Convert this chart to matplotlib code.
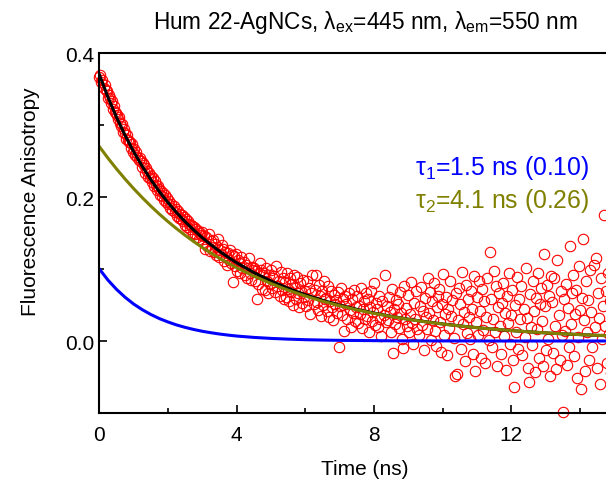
import numpy as np
import matplotlib.pyplot as plt
from matplotlib.ticker import MultipleLocator

plt.rcParams['font.family'] = ['Liberation Sans', 'DejaVu Sans']
plt.rcParams['mathtext.fontset'] = 'custom'
plt.rcParams['mathtext.rm'] = 'Liberation Sans'
plt.rcParams['mathtext.it'] = 'Liberation Sans:italic'

# measured anisotropy, one value per 0.03 ns channel (10 channels per row)
t_step = 0.03
anisotropy = [
    .366, .369, .360, .362, .351, .356, .349, .347, .338, .342,
    .337, .331, .333, .322, .327, .318, .316, .314, .309, .311,
    .303, .298, .301, .290, .294, .289, .280, .286, .279, .276,
    .276, .268, .274, .263, .267, .259, .262, .255, .251, .254,
    .250, .241, .247, .244, .233, .240, .236, .228, .233, .226,
    .229, .221, .226, .215, .222, .217, .210, .215, .211, .203,
    .208, .201, .205, .196, .203, .193, .198, .190, .194, .185,
    .190, .182, .187, .179, .184, .174, .181, .171, .177, .169,
    .175, .166, .172, .161, .170, .158, .166, .163, .155, .161,
    .160, .150, .158, .149, .155, .145, .153, .142, .150, .147,
    .151, .137, .146, .128, .144, .132, .149, .125, .139, .130,
    .140, .124, .135, .119, .131, .142, .116, .127, .121, .133,
    .128, .111, .124, .117, .105, .122, .113, .127, .108, .119,
    .082, .118, .104, .121, .097, .112, .109, .094, .116, .101,
    .110, .092, .106, .088, .101, .115, .094, .085, .103, .098,
    .102, .083, .097, .058, .079, .094, .108, .099, .072, .091,
    .095, .071, .102, .084, .066, .091, .079, .098, .074, .087,
    .090, .068, .104, .077, .083, .062, .096, .071, .088, .059,
    .082, .061, .094, .072, .055, .087, .068, .079, .050, .091,
    .074, .058, .089, .066, .047, .081, .070, .053, .085, .061,
    .069, .048, .083, .057, .074, .038, .066, .091, .052, .071,
    .092, .054, .043, .078, .062, .035, .069, .050, .084, .058,
    .060, .041, .076, .033, .055, .070, .047, .029, .064, .052,
    .057, .039, .068, -.008, .049, .074, .036, .058, .014, .063,
    .052, .031, .066, .043, .020, .058, .039, .071, .028, .047,
    .062, .025, .049, .037, .074, .018, .045, .056, .030, .067,
    .035, .058, .012, .047, .069, .028, .040, .081, .022, .053,
    .044, .019, .063, .031, .007, .055, .036, .092, .026, .048,
    .029, .061, .040, .013, .072, -.016, .045, .024, .057, .034,
    .051, .018, .068, .039, .003, -.010, .077, .030, .046, .021,
    .064, .012, .037, .082, .025, -.004, .053, .031, .070, .016,
    .008, .049, .075, .022, .041, -.012, .060, .033, .017, .087,
    .039, .068, .002, .055, .029, .080, .014, -.007, .047, .063,
    .072, .026, -.015, .051, .093, .009, .038, .061, -.020, .044,
    .018, .083, .035, .057, .004, -.049, .066, -.046, .029, .074,
    .052, -.011, .096, .023, .040, -.028, .078, .011, .059, .033,
    .003, .069, .045, -.018, .090, -.042, .027, .061, .008, .084,
    .041, -.023, .072, .015, .056, -.031, .033, .088, .002, .124,
    .058, -.009, .030, .097, .012, .076, -.035, .047, .066, .021,
    -.018, .053, .081, .007, .039, -.040, .062, .025, .094, -.004,
    .036, .071, -.027, -.064, .050, .013, .089, -.011, .058, .030,
    .077, -.020, .044, .006, .101, .032, -.038, -.057, .065, .019,
    -.006, .084, .041, -.043, .060, .017, .095, -.024, .052, .074,
    .028, -.035, .121, .049, -.012, .078, .003, .063, -.048, .090,
    .054, -.017, .087, .021, -.039, .112, .036, -.026, .069, .008,
    -.098, .058, .014, .079, -.033, .046, -.009, .132, .024, .066,
    .092, -.021, .037, .071, -.052, .005, .104, .043, -.067, .060,
    .142, .029, -.041, .083, .012, .057, -.026, .098, .040, -.008,
    .105, .019, .115, -.037, .066, .032, -.060, .088, .003, .048,
    .175, .021, .070, -.030, .095, .010, .055, -.045, .038, .080,
]

# fit components
fit_time = [0, 0.25, 0.5, 0.75, 1.0, 1.25, 1.5, 1.75, 2.0, 2.25, 2.5, 2.75,
            3.0, 3.25, 3.5, 3.75, 4.0, 4.5, 5.0, 5.5, 6.0, 6.5, 7.0, 7.5,
            8.0, 8.5, 9.0, 9.5, 10.0, 10.5, 11.0, 11.5, 12.0, 12.5, 13.0,
            13.5, 14.0, 14.5, 15.0]
fit_fast = [.1000, .0846, .0717, .0607, .0513, .0435, .0368, .0311, .0264,
            .0223, .0189, .0160, .0135, .0115, .0097, .0082, .0069, .0050,
            .0036, .0026, .0018, .0013, .0009, .0007, .0005, .0003, .0002,
            .0002, .0001, .0001, .0001, 0, 0, 0, 0, 0, 0, 0, 0]
fit_slow = [.2700, .2540, .2390, .2249, .2116, .1991, .1873, .1762, .1658,
            .1560, .1468, .1381, .1299, .1222, .1150, .1082, .1018, .0901,
            .0798, .0706, .0625, .0553, .0490, .0433, .0384, .0340, .0301,
            .0266, .0236, .0209, .0185, .0163, .0145, .0128, .0113, .0100,
            .0089, .0079, .0070]
fit_total = np.array(fit_fast) + np.array(fit_slow)

x_ticks = [0, 4, 8, 12, 16]
x_ticklabels = ['0', '4', '8', '12', '']

time = np.arange(len(anisotropy)) * t_step

fig = plt.figure(figsize=(6.06, 4.81), dpi=100)
ax = fig.add_axes([0.164, 0.1393, 0.906, 0.7484])

ax.plot(time, anisotropy, 'o', mfc='none', mec='red', ms=7.5, mew=0.8, clip_on=False)
ax.plot(fit_time, fit_total, color='black', lw=2.2)
ax.plot(fit_time, fit_slow, color='#808000', lw=2.2)
ax.plot(fit_time, fit_fast, color='blue', lw=2.2)

ax.set_xlim(0, 16)
ax.set_ylim(-0.1, 0.4)
ax.set_xticks(x_ticks, x_ticklabels)
ax.xaxis.set_minor_locator(MultipleLocator(2))
ax.yaxis.set_major_locator(MultipleLocator(0.2))
ax.yaxis.set_minor_locator(MultipleLocator(0.1))
ax.tick_params(which='both', direction='in', width=1.2, labelsize=15)
ax.tick_params(which='major', length=6)
ax.tick_params(which='minor', length=3.5)
ax.tick_params(axis='x', pad=9)
for s in ax.spines.values():
    s.set_linewidth(1.5)

ax.set_xlabel('Time (ns)', fontsize=15)
ax.set_ylabel('Fluorescence Anisotropy', fontsize=15)
ax.xaxis.set_label_coords(0.483, -0.128)
ax.yaxis.set_label_coords(-0.109, 0.59)

fig.text(0.602, 0.954, r'Hum 22-AgNCs, λ$_{\mathrm{ex}}$=445 nm, λ$_{\mathrm{em}}$=550 nm',
         ha='center', va='center', fontsize=16.3)
fig.text(415 / 606, 1 - 168 / 481, r'τ$_1$=1.5 ns (0.10)', color='blue',
         ha='left', va='center', fontsize=17.8)
fig.text(415 / 606, 1 - 201 / 481, r'τ$_2$=4.1 ns (0.26)', color='#808000',
         ha='left', va='center', fontsize=17.8)

fig.savefig('out.png', dpi=100)
